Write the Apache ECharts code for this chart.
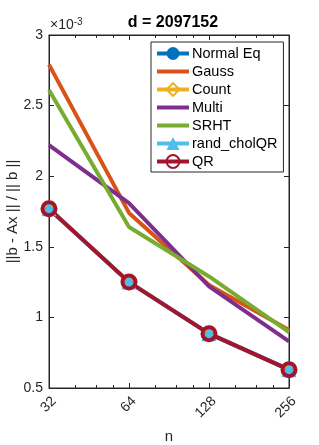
<!DOCTYPE html>
<html>
<head>
<meta charset="utf-8">
<script src="https://cdn.jsdelivr.net/npm/echarts@6/dist/echarts.min.js"></script>
<style>
html,body{margin:0;padding:0;background:#fff;}
#c{width:319px;height:445px;}
</style>
</head>
<body>
<div id="c"></div>
<script>
// values in units of 1e-3
var nValues = [32, 64, 128, 256];
var normalEq = [1.77, 1.25, 0.885, 0.63];
var gauss = [2.79, 1.74, 1.23, 0.91];
var count = [1.77, 1.25, 0.885, 0.63];
var multi = [2.22, 1.81, 1.22, 0.83];
var srht = [2.61, 1.64, 1.29, 0.895];
var randCholQR = [1.77, 1.25, 0.885, 0.63];
var qr = [1.77, 1.25, 0.885, 0.63];
var yTicks = [0.5, 1, 1.5, 2, 2.5, 3];

function pairs(arr){ return nValues.map(function(n,i){ return [n, arr[i]]; }); }

var txt = '#262626';
var chart = echarts.init(document.getElementById('c'));
function mk(name, data, color, symbol, size, itemStyle){
  return {
    name: name, type: 'line', data: pairs(data),
    symbol: symbol, symbolSize: size, showSymbol: symbol !== 'none',
    lineStyle: {color: color, width: 4},
    itemStyle: itemStyle || {color: color},
    emphasis: {disabled: true},
    animation: false
  };
}
var noMarker = {color: 'rgba(0,0,0,0)', borderWidth: 0, opacity: 0};
var option = {
  animation: false,
  title: {text: 'd = 2097152', left: 168, textAlign: 'center', top: 10,
    textStyle: {fontFamily: 'Liberation Sans', fontWeight: 'bold', fontSize: 16, color: '#000'}},
  grid: {left: 49, right: 30, top: 35, bottom: 57, outerBoundsMode: 'none', containLabel: false,
    show: true, borderColor: txt, borderWidth: 1, backgroundColor: 'transparent'},
  graphic: [{
    type: 'text', left: 50, top: 17,
    style: {rich: {a: {fontSize: 14, fill: txt, fontFamily: 'Liberation Sans'}, b: {fontSize: 10, fill: txt, fontFamily: 'Liberation Sans', verticalAlign: 'top', padding:[0,0,7,0]}},
      text: '{a|\u00d710}{b|-3}'}
  }],
  legend: {
    orient: 'vertical', left: 151, top: 42,
    backgroundColor: '#fff', borderColor: txt, borderWidth: 1,
    padding: [4, 6, 3, 4], itemGap: 3, itemWidth: 32, itemHeight: 16,
    lineStyle: {width: 4},
    textStyle: {fontFamily: 'Liberation Sans', fontSize: 14.5, color: '#000', padding: [0,0,0,-2]},
    data: [
      {name: 'Normal Eq'},
      {name: 'Gauss', itemStyle: noMarker},
      {name: 'Count'},
      {name: 'Multi', itemStyle: noMarker},
      {name: 'SRHT', itemStyle: noMarker},
      {name: 'rand_cholQR'},
      {name: 'QR'}
    ]
  },
  xAxis: [{
    type: 'log', logBase: 2, min: 32, max: 256,
    name: 'n', nameLocation: 'middle', nameGap: 41, nameMoveOverlap: false,
    nameTextStyle: {fontFamily: 'Liberation Sans', fontSize: 15, color: txt},
    axisLine: {lineStyle: {color: txt}},
    axisTick: {inside: true, length: 5, lineStyle: {color: txt}},
    minorTick: {show: true, splitNumber: 4, length: 3, lineStyle: {color: txt}},
    splitLine: {show: false},
    axisLabel: {rotate: 45, fontFamily: 'Liberation Sans', fontSize: 14, color: txt, margin: 6, verticalAlign: 'top', align: 'right'}
  },{
    type: 'log', logBase: 2, min: 32, max: 256, position: 'top',
    axisLine: {lineStyle: {color: txt}},
    axisTick: {inside: true, length: 5, lineStyle: {color: txt}},
    minorTick: {show: true, splitNumber: 4, length: 3, lineStyle: {color: txt}},
    axisLabel: {show: false}, splitLine: {show: false}
  }],
  yAxis: [{
    type: 'value', min: 0.5, max: 3, interval: 0.5,
    name: '||b - Ax || / || b ||', nameLocation: 'middle', nameGap: 29, nameMoveOverlap: false,
    nameTextStyle: {fontFamily: 'Liberation Sans', fontSize: 15, color: txt},
    axisLine: {show: true, lineStyle: {color: txt}},
    axisTick: {show: true, inside: true, length: 5, lineStyle: {color: txt}},
    splitLine: {show: false},
    axisLabel: {fontFamily: 'Liberation Sans', fontSize: 14, color: txt, margin: 6,
      formatter: function(v){ return yTicks.indexOf(v) >= 0 ? String(v) : ''; }}
  },{
    type: 'value', min: 0.5, max: 3, interval: 0.5, position: 'right',
    axisLine: {show: true, lineStyle: {color: txt}},
    axisTick: {show: true, inside: true, length: 5, lineStyle: {color: txt}},
    splitLine: {show: false}, axisLabel: {show: false}
  }],
  series: [
    mk('Normal Eq', normalEq, '#0072BD', 'circle', 10),
    mk('Gauss', gauss, '#D95319', 'none', 0),
    mk('Count', count, '#EDB120', 'diamond', 13, {color: 'rgba(0,0,0,0)', borderColor: '#EDB120', borderWidth: 3}),
    mk('Multi', multi, '#7E2F8E', 'none', 0),
    mk('SRHT', srht, '#77AC30', 'none', 0),
    mk('rand_cholQR', randCholQR, '#4DBEEE', 'triangle', 15),
    mk('QR', qr, '#A2142F', 'circle', 13, {color: 'rgba(0,0,0,0)', borderColor: '#A2142F', borderWidth: 4})
  ]
};
chart.setOption(option);
</script>
</body>
</html>
